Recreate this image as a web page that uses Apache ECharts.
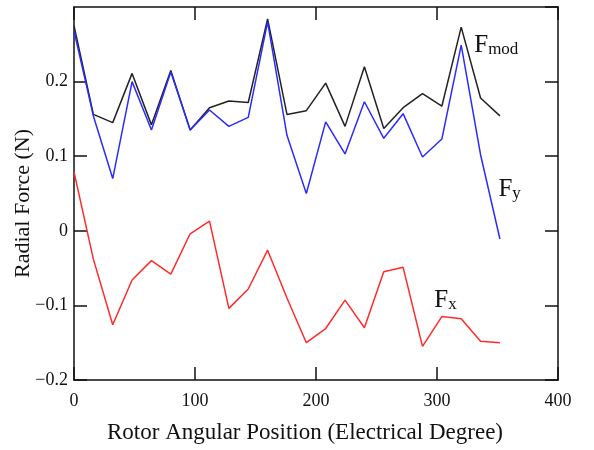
<!DOCTYPE html>
<html>
<head>
<meta charset="utf-8">
<script src="https://cdn.jsdelivr.net/npm/echarts@6/dist/echarts.min.js"></script>
<style>
  html, body { margin: 0; padding: 0; background: #fff; }
  #chart { width: 594px; height: 450px; }
</style>
</head>
<body>
<div id="chart"></div>
<script>
// rotor position, electrical degrees
var angles = [0, 16, 32, 48, 64, 80, 96, 112, 128, 144, 160, 176, 192, 208, 224, 240, 256, 272, 288, 304, 320, 336, 352];
var fMod = [0.275, 0.156, 0.145, 0.211, 0.142, 0.215, 0.135, 0.165, 0.174, 0.172, 0.284, 0.156,
            0.161, 0.198, 0.140, 0.220, 0.137, 0.165, 0.184, 0.167, 0.273, 0.178, 0.154];
var fY = [0.268, 0.154, 0.070, 0.200, 0.135, 0.213, 0.135, 0.162, 0.140, 0.152, 0.280, 0.128,
          0.050, 0.146, 0.103, 0.173, 0.124, 0.157, 0.099, 0.123, 0.249, 0.102, -0.011];
var fX = [0.079, -0.038, -0.126, -0.066, -0.040, -0.058, -0.004, 0.013, -0.104, -0.078, -0.026, -0.090,
          -0.150, -0.131, -0.093, -0.130, -0.055, -0.049, -0.155, -0.115, -0.118, -0.148, -0.150];

var font = "'Liberation Serif', 'Times New Roman', serif";

function pairs(ys) {
    var out = [];
    for (var i = 0; i < angles.length; i++) out.push([angles[i], ys[i]]);
    return out;
}

// curve name written next to the line, F with a subscript
function tag(x, y, sub) {
    return {
        coord: [x, y],
        symbol: 'circle',
        symbolSize: 1,
        itemStyle: { color: 'rgba(0,0,0,0)' },
        label: {
            show: true,
            position: 'inside',
            formatter: '{f|F}{s|' + sub + '}',
            rich: {
                f: { fontFamily: font, fontSize: 25, color: '#111', lineHeight: 28, verticalAlign: 'bottom' },
                s: { fontFamily: font, fontSize: 17, color: '#111', lineHeight: 28, verticalAlign: 'bottom', padding: [8, 0, 0, 0] }
            }
        }
    };
}

var axisLine = { show: true, onZero: false, lineStyle: { color: '#111', width: 1.5 } };
var tick = { show: true, inside: true, length: 13, lineStyle: { color: '#111', width: 1.5 } };

var myChart = echarts.init(document.getElementById('chart'));
myChart.setOption({
    animation: false,
    grid: { left: 74, right: 36, top: 7, bottom: 70, outerBoundsMode: 'none', containLabel: false },
    xAxis: [{
        type: 'value', min: 0, max: 400, interval: 100,
        axisLine: axisLine, axisTick: tick, splitLine: { show: false },
        axisLabel: { color: '#111', fontFamily: font, fontSize: 18, margin: 12 },
        name: 'Rotor Angular Position (Electrical Degree)',
        nameLocation: 'middle', nameGap: 41, nameMoveOverlap: false,
        nameTextStyle: { color: '#111', fontFamily: font, fontSize: 23, padding: [0, 22, 0, 0] }
    }, {
        type: 'value', position: 'top', min: 0, max: 400, interval: 100,
        axisLine: axisLine, axisTick: tick, splitLine: { show: false },
        axisLabel: { show: false }
    }],
    yAxis: [{
        type: 'value', min: -0.2, max: 0.3, interval: 0.1,
        axisLine: axisLine, axisTick: tick, splitLine: { show: false },
        axisLabel: {
            color: '#111', fontFamily: font, fontSize: 18, margin: 6, showMaxLabel: false,
            formatter: function (v) { return (Math.round(v * 10) / 10).toString().replace('-', '\u2212'); }
        },
        name: 'Radial Force (N)',
        nameLocation: 'middle', nameGap: 40, nameRotate: 90, nameMoveOverlap: false,
        nameTextStyle: { color: '#111', fontFamily: font, fontSize: 22, padding: [0, 20, 0, 0] }
    }, {
        type: 'value', position: 'right', min: -0.2, max: 0.3, interval: 0.1,
        axisLine: axisLine, axisTick: tick, splitLine: { show: false },
        axisLabel: { show: false }
    }],
    series: [{
        name: 'Fmod', type: 'line', data: pairs(fMod), showSymbol: false,
        lineStyle: { color: '#222', width: 1.5 }, itemStyle: { color: '#222' },
        markPoint: { silent: true, data: [tag(349, 0.250, 'mod')] }
    }, {
        name: 'Fy', type: 'line', data: pairs(fY), showSymbol: false,
        lineStyle: { color: '#2b2bff', width: 1.5 }, itemStyle: { color: '#2b2bff' },
        markPoint: { silent: true, data: [tag(360, 0.057, 'y')] }
    }, {
        name: 'Fx', type: 'line', data: pairs(fX), showSymbol: false,
        lineStyle: { color: '#ff2b2b', width: 1.5 }, itemStyle: { color: '#ff2b2b' },
        markPoint: { silent: true, data: [tag(307, -0.092, 'x')] }
    }]
});
</script>
</body>
</html>
